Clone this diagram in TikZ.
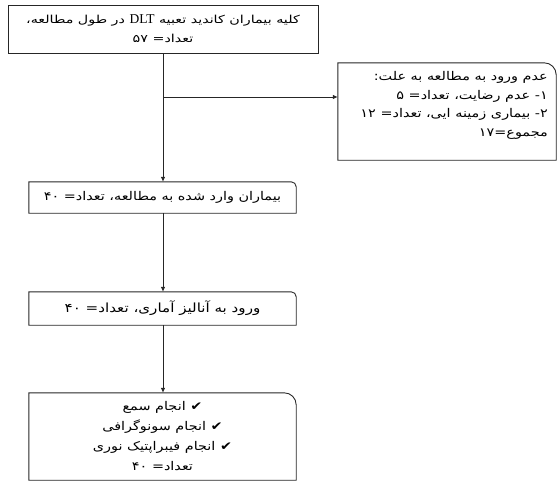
\documentclass[tikz,border=0pt]{standalone}
\usepackage{fontspec}
\usetikzlibrary{arrows.meta}
\TeXXeTstate=1
\newfontfamily\arabicfont[Script=Arabic]{DejaVu Sans}
\newfontfamily\arabicwide[Script=Arabic,FakeStretch=1.3]{DejaVu Sans}
\newfontfamily\arabicmid[Script=Arabic,FakeStretch=1.2]{DejaVu Sans}
\newfontfamily\latinfont{Liberation Serif}
\newcommand\rtframe[2]{\draw[frame] (#1.south west) -- (#1.north west) -- ([xshift=-#2]#1.north east) arc[start angle=90,end angle=0,radius=#2] -- (#1.south east) -- cycle;}
\begin{document}
\begin{tikzpicture}[x=1pt,y=-1pt,
  frame/.style={draw=black!85, line width=0.9pt},
  conn/.style={draw=black!85, line width=0.8pt},
  arr/.style={conn, -{Latex[length=5pt,width=4.5pt]}},
  txt/.style={align=center, inner sep=0pt},
  boxnode/.style={txt, minimum width=267pt},
]
\useasboundingbox (0,0) rectangle (557,482);
% top box
\node[txt, frame, minimum width=310pt, minimum height=48pt, font=\arabicwide\fontsize{11}{19}\selectfont] (all) at (163,29)
  {\beginR کلیه بیماران کاندید تعبیه \beginL{\latinfont\fontsize{13.5}{19}\selectfont DLT}\endL{} در طول مطالعه،\endR\\\beginR تعداد= ۵۷\endR};
% exclusion box
\node[minimum width=218pt, minimum height=97pt, inner sep=0pt] (excl) at (447,111.5) {};
\rtframe{excl}{12pt}
\node[txt, align=right, anchor=north east, font=\arabicmid\fontsize{12}{18.7}\selectfont] (excltext) at (548,71)
  {\beginR عدم ورود به مطالعه به علت:\endR\\
   \beginR ۱- عدم رضایت، تعداد= ۵\endR\\
   \beginR ۲- بیماری زمینه ایی، تعداد= ۱۲\endR\\
   \beginR مجموع=۱۷\endR};
% enrolled
\node[boxnode, minimum height=31pt, font=\arabicmid\fontsize{12}{19}\selectfont] (enr) at (162.5,197.5)
  {\beginR بیماران وارد شده به مطالعه، تعداد= ۴۰\endR};
\rtframe{enr}{5pt}
% analysis
\node[boxnode, minimum height=33pt, font=\arabicmid\fontsize{12.6}{19}\selectfont] (ana) at (162.5,308.5)
  {\beginR ورود به آنالیز آماری، تعداد= ۴۰\endR};
\rtframe{ana}{5pt}
% procedures
\node[boxnode, minimum height=87pt, font=\arabicmid\fontsize{12}{20}\selectfont] (proc) at (162.5,436.5)
  {\beginR ✔ انجام سمع\endR\\
   \beginR ✔ انجام سونوگرافی\endR\\
   \beginR ✔ انجام فیبراپتیک نوری\endR\\
   \beginR تعداد= ۴۰\endR};
\rtframe{proc}{12pt}
% connectors
\coordinate (br) at (163,97);
\draw[arr] (all.south -| 163,0) -- (enr.north -| 163,0);
\draw[arr] (br) -- (br -| excl.west);
\draw[arr] (enr.south -| 163,0) -- (ana.north -| 163,0);
\draw[arr] (ana.south -| 163,0) -- (proc.north -| 163,0);
\end{tikzpicture}
\end{document}
